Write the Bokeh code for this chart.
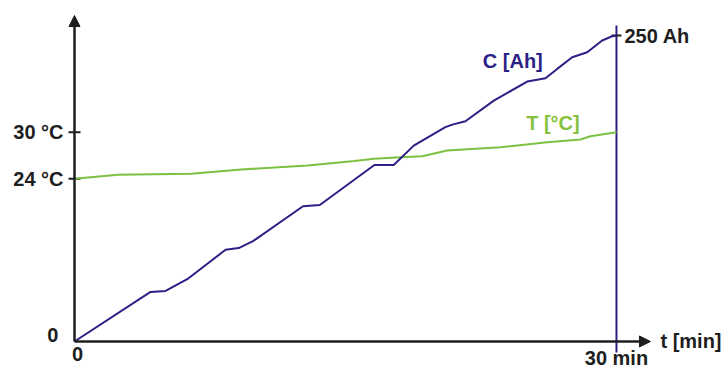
from bokeh.plotting import figure
from bokeh.models import Range1d, Arrow, NormalHead, Label
from bokeh.embed import file_html
from bokeh.resources import INLINE

# ---- data ----
t_C = [0, 4.21, 5.04, 6.24, 8.36, 9.09, 9.88, 12.65, 13.58, 16.60, 17.67, 18.78,
       20.53, 20.91, 21.64, 23.21, 25.06, 26.07, 26.72, 27.55, 28.38, 29.21, 29.76, 30]
C_ah = [0, 40.5, 41.3, 50.9, 74.9, 76.3, 82.0, 110.5, 111.5, 144.2, 144.2, 160.0,
        175.1, 177.2, 179.9, 196.8, 212.4, 215.1, 222.7, 232.2, 236.3, 245.9, 249.4, 250]

t_T = [0, 2.40, 6.46, 9.23, 12.91, 15.50, 16.57, 18.04, 19.25, 20.63, 23.58, 26.16,
       28.01, 28.56, 30]
T_degC = [24, 24.51, 24.64, 25.20, 25.71, 26.29, 26.57, 26.78, 26.91, 27.64, 28.07,
          28.71, 29.06, 29.48, 30]

T_TICKS = [24, 30]
T_TICK_LABELS = ["24 °C", "30 °C"]
X_TICKS = [0, 30]
X_TICK_LABELS = ["0", "30 min"]
C_TICK = 250
C_TICK_LABEL = "250 Ah"
ORIGIN_LABEL = "0"
X_AXIS_LABEL = "t [min]"
C_SERIES_LABEL = "C [Ah]"
T_SERIES_LABEL = "T [°C]"

# ---- layout / scale settings ----
X_RANGE = (-4.096, 35.98)
C_RANGE = (-22.9, 278.6)
T_RANGE = (-0.55, 46.96)
X_ARROW_END = 31.88
C_ARROW_END = 266.3
C_LINE_TOP = 258.2
C_LINE_BOTTOM = -9.0

BLUE = "#2c1f86"
GREEN = "#7dc142"
GREEN_TXT = "#86c23f"
AX = "#1e1e1e"
FONT = "Liberation Sans"
FS = "20px"

p = figure(width=724, height=369, output_backend="svg", toolbar_location=None,
           x_axis_type=None, y_axis_type=None,
           x_range=Range1d(*X_RANGE), y_range=Range1d(*C_RANGE),
           min_border=0, min_border_left=0, min_border_right=0,
           min_border_top=0, min_border_bottom=0)
p.extra_y_ranges = {"T": Range1d(*T_RANGE)}
p.outline_line_color = None
p.grid.visible = False
p.background_fill_color = "white"
p.border_fill_color = "white"

# axis arrows
p.add_layout(Arrow(end=NormalHead(size=11, fill_color=AX, line_color=AX, line_width=1),
                   x_start=0, y_start=0, x_end=0, y_end=C_ARROW_END,
                   line_color=AX, line_width=2.5))
p.add_layout(Arrow(end=NormalHead(size=11, fill_color=AX, line_color=AX, line_width=1),
                   x_start=0, y_start=0, x_end=X_ARROW_END, y_end=0,
                   line_color=AX, line_width=2.5))

# temperature ticks on the left axis
p.scatter(x=[0] * len(T_TICKS), y=T_TICKS, y_range_name="T", marker="dash",
          size=12, line_color=AX, line_width=2)

# right capacity axis line + tick
p.segment(x0=[X_TICKS[-1]], y0=[C_LINE_BOTTOM], x1=[X_TICKS[-1]], y1=[C_LINE_TOP],
          line_color=BLUE, line_width=2)
p.scatter(x=[X_TICKS[-1]], y=[C_TICK], marker="dash", size=10, line_color=AX, line_width=2)

# series
p.line(t_T, T_degC, y_range_name="T", line_color=GREEN, line_width=2)
p.line(t_C, C_ah, line_color=BLUE, line_width=2)

def lab(**kw):
    base = dict(text_font=FONT, text_font_style="bold", text_font_size=FS)
    base.update(kw)
    p.add_layout(Label(**base))

for ty, tl in zip(T_TICKS, T_TICK_LABELS):
    lab(x=0, y=ty, y_range_name="T", text=tl, text_align="right", text_baseline="middle",
        x_offset=-11, text_color=AX)
for tx, tl in zip(X_TICKS, X_TICK_LABELS):
    lab(x=tx, y=0, text=tl, text_align="center", text_baseline="top", y_offset=-6,
        x_offset=3 if tx == 0 else 0, text_color=AX)
lab(x=0, y=0, text=ORIGIN_LABEL, text_align="right", text_baseline="middle",
    x_offset=-16, y_offset=6, text_color=AX)
lab(x=X_TICKS[-1], y=C_TICK, text=C_TICK_LABEL, text_align="left", text_baseline="middle",
    x_offset=8, text_color=AX)
lab(x=X_ARROW_END, y=0, text=X_AXIS_LABEL, text_align="left", text_baseline="middle",
    x_offset=10, text_color=AX)
lab(x=22.6, y=229, text=C_SERIES_LABEL, text_align="left", text_baseline="middle",
    text_color=BLUE)
lab(x=25.0, y=31.2, y_range_name="T", text=T_SERIES_LABEL, text_align="left",
    text_baseline="middle", text_color=GREEN_TXT)

open("out.html", "w").write(file_html(p, INLINE))
